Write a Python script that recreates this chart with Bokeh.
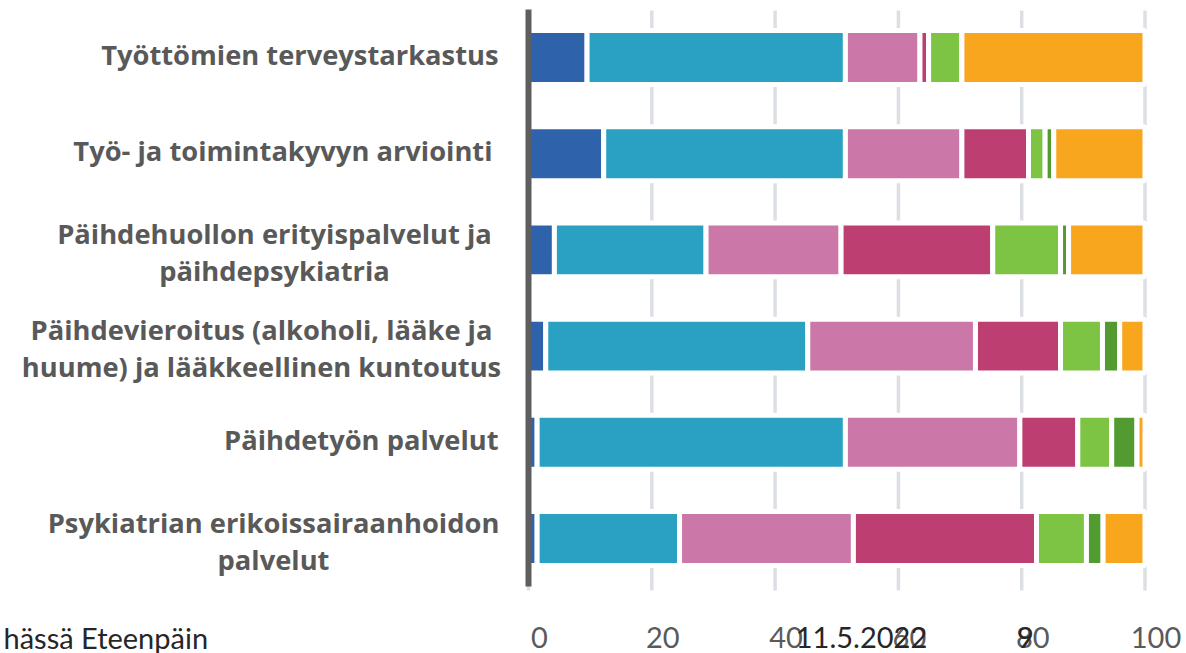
from bokeh.plotting import figure
from bokeh.models import ColumnDataSource, Range1d
from bokeh.core.properties import value
from bokeh.embed import file_html
from bokeh.resources import INLINE

# ---------------- data ----------------
categories = [
    "Työttömien terveystarkastus",
    "Työ- ja toimintakyvyn arviointi",
    "Päihdehuollon erityispalvelut ja\npäihdepsykiatria",
    "Päihdevieroitus (alkoholi, lääke ja\nhuume) ja lääkkeellinen kuntoutus",
    "Päihdetyön palvelut",
    "Psykiatrian erikoissairaanhoidon\npalvelut",
]
series_names = ["s1", "s2", "s3", "s4", "s5", "s6", "s7"]
s1 = [9.5, 12.2, 4.2, 2.8, 1.4, 1.4]
s2 = [41.9, 39.2, 24.6, 42.5, 50.0, 23.1]
s3 = [12.1, 18.9, 21.9, 27.2, 28.3, 28.2]
s4 = [1.4, 10.8, 24.6, 13.8, 9.4, 29.7]
s5 = [5.4, 2.7, 11.0, 6.8, 5.5, 8.1]
s6 = [0.0, 1.4, 1.3, 2.8, 4.1, 2.7]
s7 = [29.7, 14.8, 12.4, 4.1, 1.3, 6.8]
x_ticks = [0, 20, 40, 60, 80, 100]
footer_left = "hässä Eteenpäin"
footer_date = "11.5.2022"
footer_page = "9"

# ---------------- styles / layout ----------------
colors = ["#2E63AB", "#2AA0C3", "#CB77A8", "#BD3F72", "#7DC344", "#529B30", "#F8A61E"]
W, H = 1186, 653
X0_PX, PX_PER_UNIT = 528, 6.165      # where value 0 sits and pixels per unit
TOP_ROW_PX, ROW_PX = 57, 96.2        # centre of first bar and row pitch
n = len(categories)

def fx(px):
    return (px - X0_PX) / PX_PER_UNIT

def fy(py):
    return (n - 0.5) - (py - TOP_ROW_PX) / ROW_PX

rows = [n - 1 - i + 0.5 for i in range(n)]

# label layout: single-line labels right-aligned, multi-line ones centred
label_dx = [-30, -36, -254, -267, -30, -255]
multi = ["\n" in c for c in categories]

source = ColumnDataSource(dict(cat=categories, row=rows,
                               s1=s1, s2=s2, s3=s3, s4=s4, s5=s5, s6=s6, s7=s7))

p = figure(
    width=W, height=H,
    x_range=Range1d(fx(0), fx(W)),
    y_range=Range1d(fy(H), fy(0)),
    x_axis_location=None, y_axis_location=None,
    output_backend="svg", toolbar_location=None,
    min_border=0, min_border_left=0, min_border_right=0, min_border_top=0, min_border_bottom=0,
)
p.outline_line_color = None
p.grid.visible = False
p.background_fill_color = "white"
p.border_fill_color = "white"

# gridlines
p.segment(x0=x_ticks, y0=[fy(590)] * len(x_ticks), x1=x_ticks, y1=[fy(10)] * len(x_ticks),
          line_color="#DCDFE3", line_width=3.5)

# bars
p.hbar_stack(series_names, y="row", height=0.56, color=colors, source=source,
             line_color="white", line_width=5)

# axis line at 0
p.segment(x0=[0], y0=[fy(586)], x1=[0], y1=[fy(9)], line_color="#5E5E5E", line_width=6)

# category labels
single_src = ColumnDataSource(dict(
    x=[0] * sum(not m for m in multi),
    y=[r for r, m in zip(rows, multi) if not m],
    t=[c for c, m in zip(categories, multi) if not m],
    dx=[d for d, m in zip(label_dx, multi) if not m],
))
multi_src = ColumnDataSource(dict(
    x=[0] * sum(multi),
    y=[r for r, m in zip(rows, multi) if m],
    t=[c for c, m in zip(categories, multi) if m],
    dx=[d for d, m in zip(label_dx, multi) if m],
))
for src, al, dy in [(single_src, "right", -3), (multi_src, "center", 2)]:
    p.text(x="x", y="y", text="t", x_offset="dx", y_offset=dy, source=src,
           text_align=al, text_baseline="middle",
           text_font=value("Open Sans"), text_font_style="bold",
           text_font_size="27.3px", text_color="#595959", text_line_height=1.0)

# tick labels
p.text(x=x_ticks, y=[fy(637)] * len(x_ticks), text=[str(t) for t in x_ticks],
       x_offset=11, text_align="center", text_baseline="middle",
       text_font=value("Lato"), text_font_size="29px",
       text_color="#5A5A5A")

# footer texts of the slide
p.text(x=[fx(3)], y=[fy(637)], text=[footer_left], text_align="left",
       text_baseline="middle", text_font=value("Lato"),
       text_font_size="29px", text_color="#262626")
p.text(x=[fx(861), fx(1025)], y=[fy(637)] * 2, text=[footer_date, footer_page],
       text_align="center", text_baseline="middle",
       text_font=value("Lato"), text_font_size="29px",
       text_color="#262626")

open("out.html", "w").write(file_html(p, INLINE))
